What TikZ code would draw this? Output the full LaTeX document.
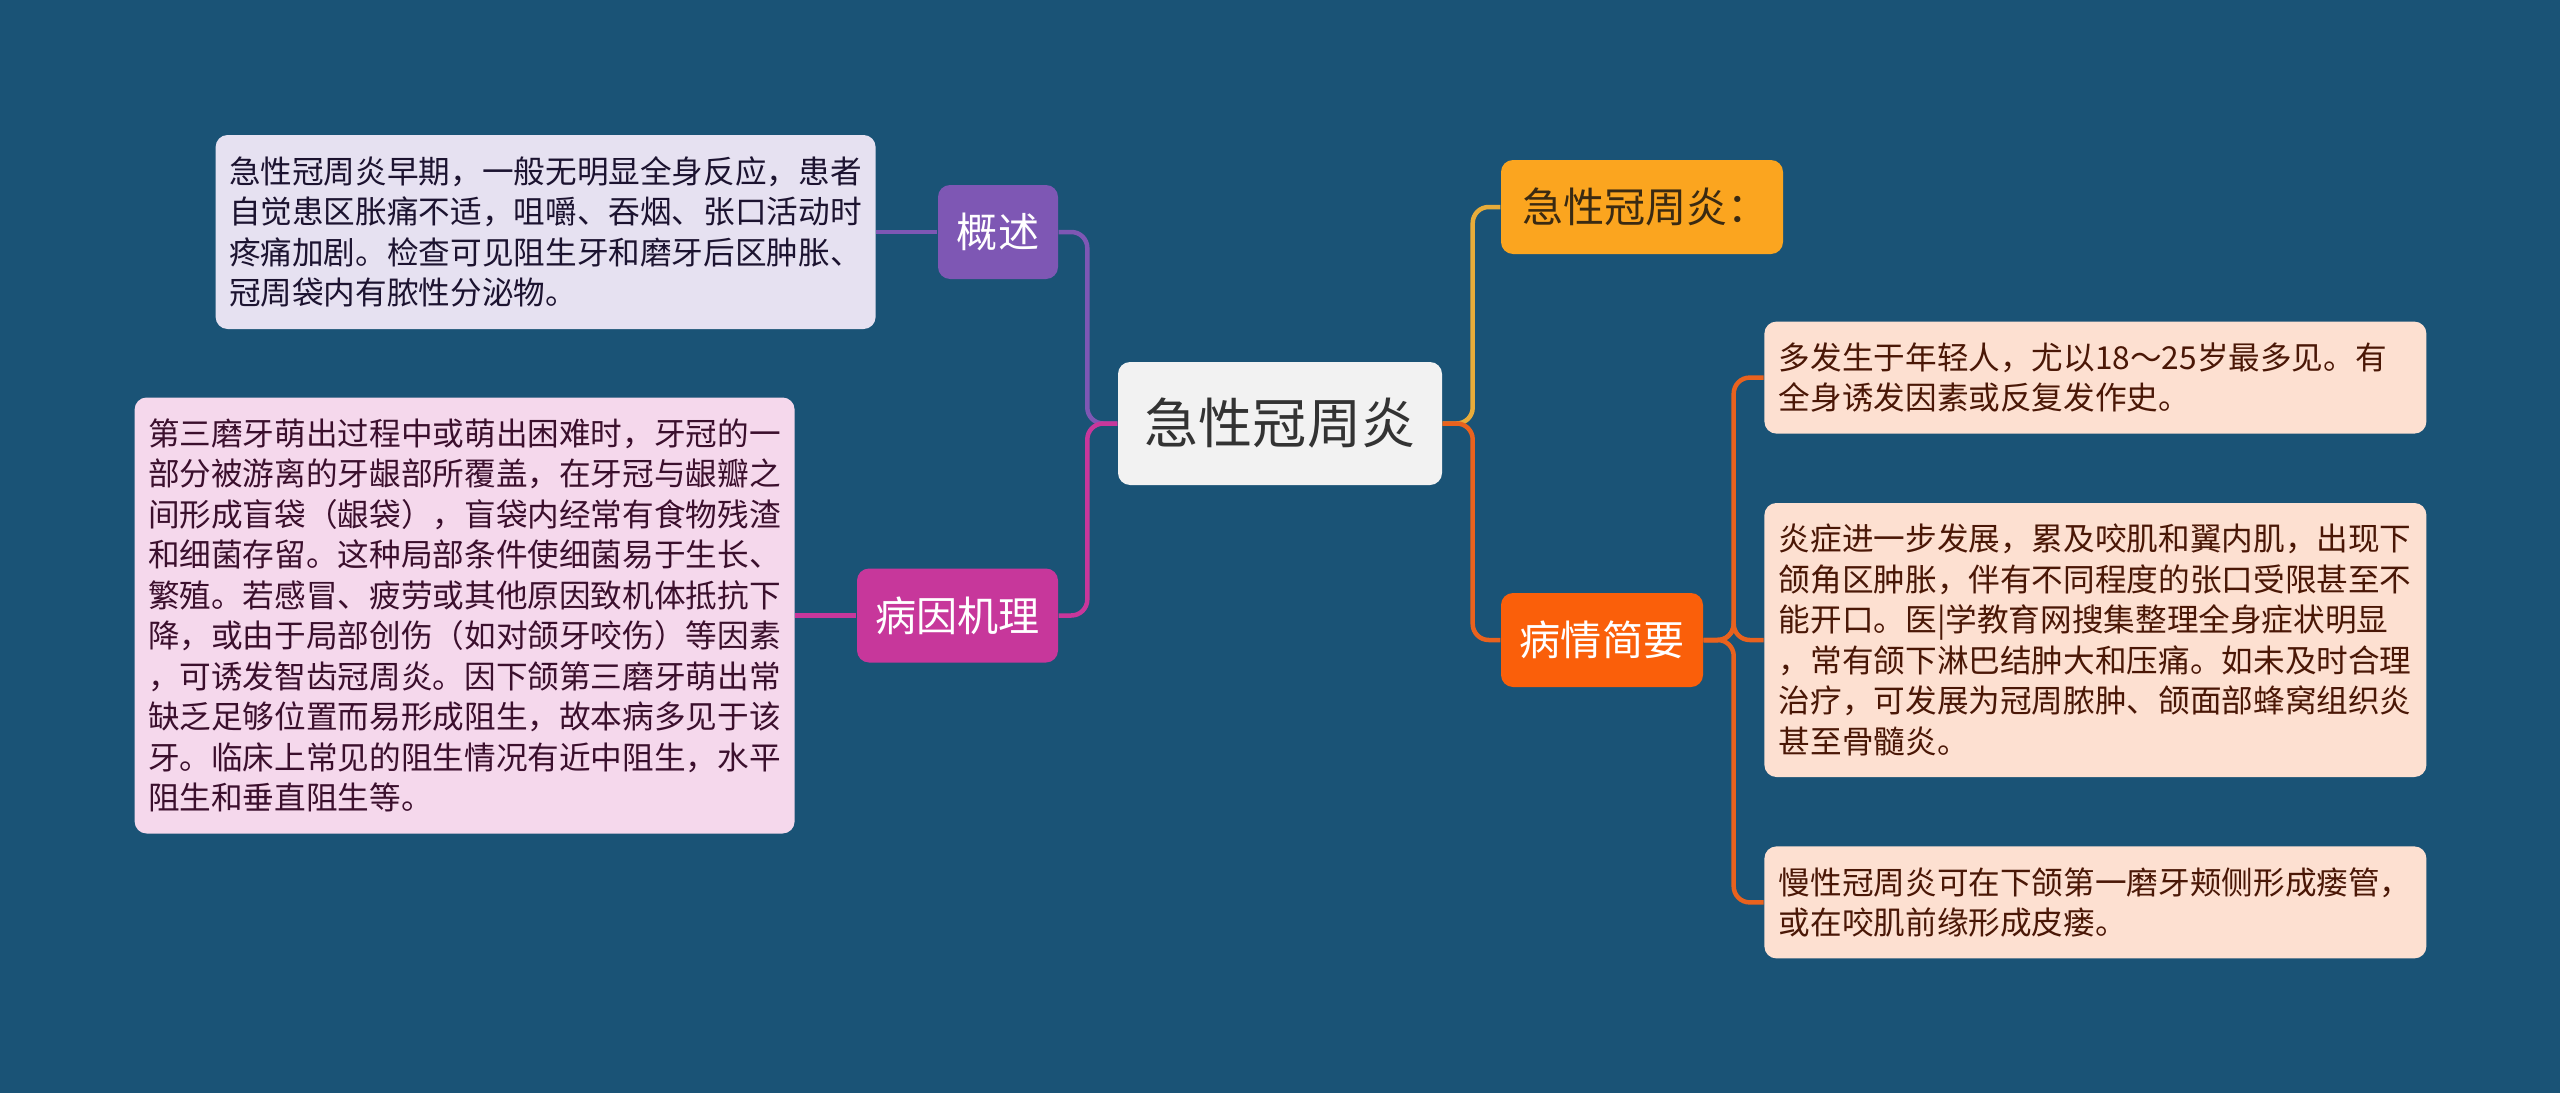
\documentclass[tikz,border=0pt]{standalone}
\usepackage{fontspec}
\setmainfont{Noto Sans CJK SC}
\usepackage{tikz}
\usetikzlibrary{positioning}
\definecolor{bgblue}{HTML}{1A5376}
\definecolor{rootgray}{HTML}{F2F2F2}
\definecolor{roottext}{HTML}{333333}
\definecolor{gaishupurple}{HTML}{7E57B4}
\definecolor{bingyinmag}{HTML}{C7379B}
\definecolor{jixingorange}{HTML}{FBA51F}
\definecolor{jixingline}{HTML}{E8AC3A}
\definecolor{jixingtext}{HTML}{3A2A12}
\definecolor{bingqingred}{HTML}{FA5F0A}
\definecolor{bingqingline}{HTML}{E9621E}
\definecolor{notelav}{HTML}{E6E1F1}
\definecolor{notepink}{HTML}{F5D8EC}
\definecolor{notepeach}{HTML}{FDE0D1}
\definecolor{lavtext}{HTML}{1C1330}
\definecolor{pinktext}{HTML}{3B0F2D}
\definecolor{peachtext}{HTML}{4A1706}
\tikzset{
  rootbox/.style={fill=rootgray, rounded corners=1.2mm,
    minimum width=32.4mm, minimum height=12.3mm,
    text=roottext, font=\fontsize{15.4}{18}\selectfont},
  topicbox/.style={rounded corners=1.2mm, minimum height=9.4mm,
    inner xsep=0pt, font=\fontsize{11.7}{14}\selectfont},
  notebox/.style={rounded corners=1.2mm, align=left, inner ysep=0pt,
    inner xsep=1.35mm, text width=63.3mm,
    font=\fontsize{9}{11.52}\selectfont},
  link/.style={line width=0.45mm, rounded corners=1.6mm},
}

\begin{document}
\begin{tikzpicture}[x=0.1mm, y=-0.1mm]
  % background
  \fill[bgblue] (0,0) rectangle (2560,1093);
  \useasboundingbox (0,0) rectangle (2560,1093);

  % root and main topics
  \node[rootbox] (root) at (1280,423.5) {急性冠周炎};
  \node[topicbox, fill=gaishupurple, text=white, minimum width=12mm]
    (gaishu) at (998,232) {概述};
  \node[topicbox, fill=bingyinmag, text=white, minimum width=20.1mm]
    (bingyin) at (957.5,615.5) {病因机理};
  \node[topicbox, fill=jixingorange, text=jixingtext, inner xsep=2.1mm,
        text width=24mm, align=left]
    (jixing) at (1642,207) {急性冠周炎：};
  \node[topicbox, fill=bingqingred, text=white, minimum width=20.2mm]
    (bingqing) at (1602,640) {病情简要};

  % left notes
  \node[notebox, fill=notelav, text=lavtext, minimum height=19.4mm,
        left=6.1mm of gaishu] (gaishutext)
    {急性冠周炎早期，一般无明显全身反应，患者\\
     自觉患区胀痛不适，咀嚼、吞烟、张口活动时\\
     疼痛加剧。检查可见阻生牙和磨牙后区肿胀、\\
     冠周袋内有脓性分泌物。};
  \node[notebox, fill=notepink, text=pinktext, minimum height=43.6mm,
        left=6.1mm of bingyin] (bingyintext)
    {第三磨牙萌出过程中或萌出困难时，牙冠的一\\
     部分被游离的牙龈部所覆盖，在牙冠与龈瓣之\\
     间形成盲袋（龈袋），盲袋内经常有食物残渣\\
     和细菌存留。这种局部条件使细菌易于生长、\\
     繁殖。若感冒、疲劳或其他原因致机体抵抗下\\
     降，或由于局部创伤（如对颌牙咬伤）等因素\\
     ，可诱发智齿冠周炎。因下颌第三磨牙萌出常\\
     缺乏足够位置而易形成阻生，故本病多见于该\\
     牙。临床上常见的阻生情况有近中阻生，水平\\
     阻生和垂直阻生等。};

  % right notes
  \node[notebox, fill=notepeach, text=peachtext, inner xsep=1.45mm,
        minimum height=27.4mm, right=6mm of bingqing] (qing2)
    {炎症进一步发展，累及咬肌和翼内肌，出现下\\
     颌角区肿胀，伴有不同程度的张口受限甚至不\\
     能开口。医|学教育网搜集整理全身症状明显\\
     ，常有颌下淋巴结肿大和压痛。如未及时合理\\
     治疗，可发展为冠周脓肿、颌面部蜂窝组织炎\\
     甚至骨髓炎。};
  \node[notebox, fill=notepeach, text=peachtext, inner xsep=1.45mm,
        minimum height=11.2mm, above=6.8mm of qing2] (qing1)
    {多发生于年轻人，尤以18～25岁最多见。有\\
     全身诱发因素或反复发作史。};
  \node[notebox, fill=notepeach, text=peachtext, inner xsep=1.45mm,
        minimum height=11.2mm, below=6.8mm of qing2] (qing3)
    {慢性冠周炎可在下颌第一磨牙颊侧形成瘘管，\\
     或在咬肌前缘形成皮瘘。};

  % branches
  \draw[link, gaishupurple] (root.west) -- ++(-30,0) |- (gaishu.east);
  \draw[link, bingyinmag] (root.west) -- ++(-30,0) |- (bingyin.east);
  \draw[link, jixingline] (root.east) -- ++(30,0) |- (jixing.west);
  \draw[link, bingqingline] (root.east) -- ++(30,0) |- (bingqing.west);
  \draw[link, gaishupurple] (gaishutext) -- (gaishu);
  \draw[link, bingyinmag] (bingyintext) -- (bingyin);
  \foreach \q in {qing1, qing2, qing3} {
    \draw[link, bingqingline] (bingqing.east) -- ++(30,0) |- (\q.west);
  }
\end{tikzpicture}
\end{document}
